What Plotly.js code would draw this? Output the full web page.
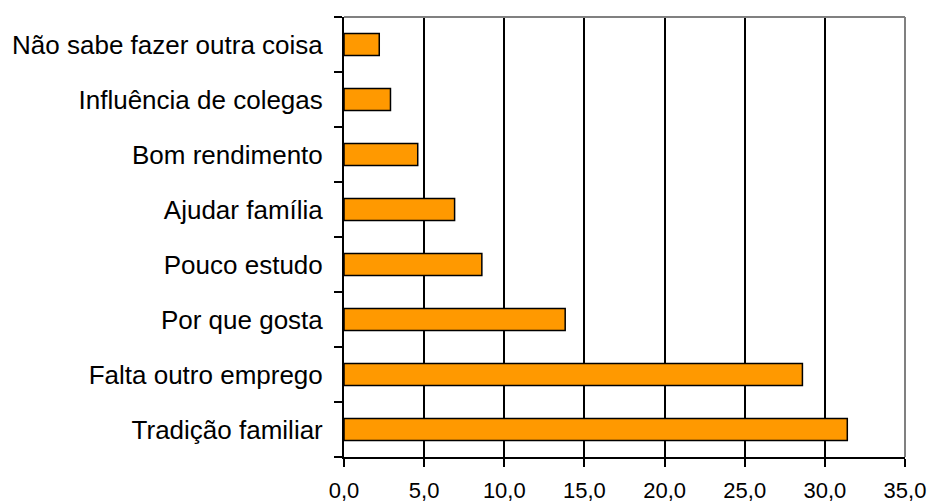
<!DOCTYPE html>
<html>
<head>
<meta charset="utf-8">
<script src="https://cdn.plot.ly/plotly-3.0.1.min.js"></script>
<style>html,body{margin:0;padding:0;background:#fff;}#chart{width:928px;height:504px;}</style>
</head>
<body>
<div id="chart"></div>
<script>
const categories = [
  "Tradição familiar",
  "Falta outro emprego",
  "Por que gosta",
  "Pouco estudo",
  "Ajudar família",
  "Bom rendimento",
  "Influência de colegas",
  "Não sabe fazer outra coisa"
];
const values = [31.4, 28.6, 13.8, 8.6, 6.9, 4.6, 2.9, 2.2];
const xTicks = [0, 5, 10, 15, 20, 25, 30, 35];

const trace = {
  type: "bar",
  orientation: "h",
  y: categories,
  x: values,
  width: 0.4,
  marker: {color: "#FF9900", line: {color: "#000000", width: 1.5}},
  hoverinfo: "x+y"
};

const layout = {
  width: 928,
  height: 504,
  margin: {l: 344, r: 23, t: 17, b: 47},
  paper_bgcolor: "#ffffff",
  plot_bgcolor: "#ffffff",
  separators: ",.",
  showlegend: false,
  font: {family: "Liberation Sans, Arial, sans-serif", color: "#000000"},
  bargap: 0.6,
  xaxis: {
    range: [0, 35],
    tickvals: xTicks,
    tickformat: ".1f",
    showgrid: true,
    gridcolor: "#000000",
    gridwidth: 2,
    zeroline: false,
    showline: true,
    linecolor: "#000000",
    linewidth: 2,
    ticks: "outside",
    ticklen: 8,
    tickwidth: 2,
    tickcolor: "#000000",
    ticklabelstandoff: 5,
    tickfont: {size: 22, family: "Liberation Sans, Arial, sans-serif", color: "#000000"},
    fixedrange: true
  },
  yaxis: {
    type: "category",
    categoryorder: "array",
    categoryarray: categories,
    showgrid: false,
    zeroline: false,
    showline: true,
    linecolor: "#000000",
    linewidth: 2,
    ticks: "outside",
    tickson: "boundaries",
    ticklen: 8,
    tickwidth: 2,
    tickcolor: "#000000",
    ticklabelstandoff: 14,
    tickfont: {size: 26, family: "Liberation Sans, Arial, sans-serif", color: "#000000"},
    fixedrange: true
  },
  shapes: [
    {type: "line", xref: "paper", yref: "paper", x0: 0, x1: 1, y0: 1, y1: 1, line: {color: "#808080", width: 2}, layer: "above"},
    {type: "line", xref: "paper", yref: "paper", x0: 1, x1: 1, y0: 0, y1: 1, line: {color: "#808080", width: 2}, layer: "above"}
  ]
};

Plotly.newPlot("chart", [trace], layout, {displayModeBar: false, staticPlot: true});
</script>
</body>
</html>
